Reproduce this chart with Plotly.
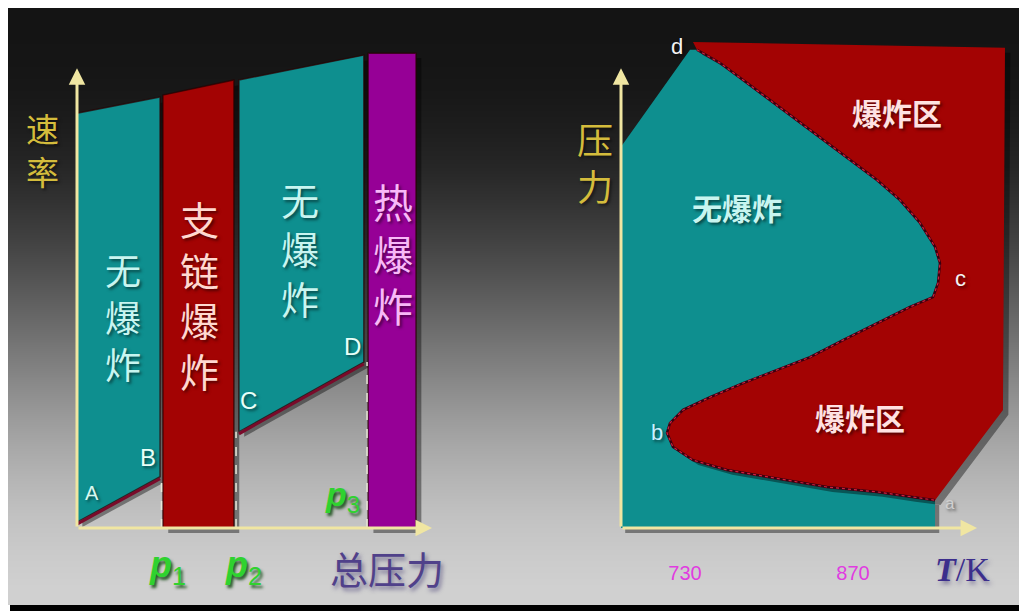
import plotly.graph_objects as go

# ---- left diagram: reaction rate vs total pressure ----
p_marks = [2.38, 4.48, 8.17]          # p1, p2, p3
slow1_x = [0.0, 2.34]
slow1_top = [8.50, 8.83]
slow1_bottom = [0.12, 1.05]
chain_x = [2.42, 4.42]
chain_top = [8.87, 9.18]
slow2_x = [4.56, 8.08]
slow2_top = [9.18, 9.69]
slow2_bottom = [1.97, 3.40]
thermal_x = [8.20, 9.55]
thermal_top = [9.73, 9.73]
dash_tops = [1.05, 1.97, 3.40]        # where the dashed p-lines meet the curves

# ---- right diagram: pressure vs T/K (explosion limits) ----
third_T = [740.0, 759.2, 778.4, 800.9, 823.4, 845.0, 867.5, 890.0, 909.2, 925.9, 938.4, 942.5, 940.9, 936.7]
third_P = [9.80, 9.53, 9.18, 8.77, 8.36, 7.95, 7.54, 7.13, 6.72, 6.25, 5.76, 5.43, 5.02, 4.73]
second_T = [917.5, 890.0, 861.7, 834.2, 806.7, 778.4, 750.9, 728.4, 717.5, 715.0]
second_P = [4.53, 4.20, 3.85, 3.50, 3.24, 2.97, 2.68, 2.42, 2.15, 1.95]
first_T = [720.0, 736.7, 765.0, 806.7, 848.4, 890.0, 917.5, 938.4]
first_P = [1.66, 1.39, 1.19, 1.02, 0.84, 0.74, 0.64, 0.57]
safe_corner_T = [676.7, 676.7, 734.2]
safe_corner_P = [0.0, 7.81, 9.80]
boom_corner_T = [736.7, 996.7, 995.0]
boom_corner_P = [9.96, 9.84, 2.42]
temp_ticks = [730, 870]

# background grey levels from top to bottom
bg_levels = [20, 21, 24, 30, 38, 50, 64, 80, 98, 116, 134, 152, 168, 182, 194, 202, 208]

TEAL = "#0e8f8f"
RED = "#a30303"
PURPLE = "#960096"
AXIS = "#f0e6a2"
CJK = "Noto Sans CJK SC"
LAT = "Liberation Sans"

W, H = 1019, 611
fig = go.Figure()

# background gradient on a full-page hidden axis
fig.add_trace(go.Heatmap(z=[[v, v] for v in bg_levels[::-1]], x=[0, 1],
                         y=list(range(len(bg_levels))), zsmooth="best",
                         colorscale=[[0, "black"], [1, "white"]], zmin=0, zmax=255,
                         showscale=False, hoverinfo="skip", xaxis="x", yaxis="y"))
fig.add_shape(type="rect", xref="paper", yref="paper", x0=10 / W, x1=1, y0=0, y1=6 / H,
              fillcolor="black", line_width=0)


def poly(xs, ys, color, xa="x2", ya="y2", edge="rgba(40,0,0,0.7)", shadow=(0.15, -0.1)):
    dx, dy = shadow
    fig.add_trace(go.Scatter(x=[v + dx for v in xs] + [xs[0] + dx], y=[v + dy for v in ys] + [ys[0] + dy],
                             mode="lines", fill="toself", fillcolor="rgba(0,0,0,0.4)",
                             line=dict(width=0), xaxis=xa, yaxis=ya, hoverinfo="skip", showlegend=False))
    fig.add_trace(go.Scatter(x=xs + [xs[0]], y=ys + [ys[0]], mode="lines", fill="toself",
                             fillcolor=color, line=dict(color=edge, width=1.5),
                             xaxis=xa, yaxis=ya, hoverinfo="skip", showlegend=False))


# left regions
poly([slow1_x[0], slow1_x[1], slow1_x[1], slow1_x[0]],
     [slow1_bottom[0], slow1_bottom[1], slow1_top[1], slow1_top[0]], TEAL)
poly([chain_x[0], chain_x[1], chain_x[1], chain_x[0]], [0, 0, chain_top[1], chain_top[0]], RED)
poly([slow2_x[0], slow2_x[1], slow2_x[1], slow2_x[0]],
     [slow2_bottom[0], slow2_bottom[1], slow2_top[1], slow2_top[0]], TEAL)
poly([thermal_x[0], thermal_x[1], thermal_x[1], thermal_x[0]], [0, 0, thermal_top[1], thermal_top[0]], PURPLE)

# maroon rims under the slow-reaction regions
for xs, ys in [(slow1_x, slow1_bottom), (slow2_x, slow2_bottom)]:
    fig.add_trace(go.Scatter(x=xs, y=[v - 0.04 for v in ys], mode="lines", xaxis="x2", yaxis="y2",
                             line=dict(color="#7a0a2a", width=3), hoverinfo="skip", showlegend=False))

# dashed p-lines
for px, top in zip(p_marks, dash_tops):
    fig.add_trace(go.Scatter(x=[px, px], y=[0, top], mode="lines", xaxis="x2", yaxis="y2",
                             line=dict(color="#e8e8d8", width=1.5, dash="dash"),
                             hoverinfo="skip", showlegend=False))

# right regions
boundary_T = third_T + second_T + first_T
boundary_P = third_P + second_P + first_P
poly(safe_corner_T + boundary_T + [first_T[-1]], safe_corner_P + boundary_P + [0],
     TEAL, "x3", "y3", edge="rgba(0,0,0,0)", shadow=(3.5, -0.1))
poly(boom_corner_T + boundary_T[::-1], boom_corner_P + boundary_P[::-1],
     RED, "x3", "y3", edge="rgba(0,0,0,0)", shadow=(4.5, -0.1))
fig.add_trace(go.Scatter(x=boundary_T, y=boundary_P, mode="lines", line=dict(color="#3a0010", width=2.5),
                         xaxis="x3", yaxis="y3", hoverinfo="skip", showlegend=False))
fig.add_trace(go.Scatter(x=boundary_T, y=boundary_P, mode="lines",
                         line=dict(color="#d02040", width=1.2, dash="dot"),
                         xaxis="x3", yaxis="y3", hoverinfo="skip", showlegend=False))

ann = []


def arrow(x, y, ax, ay, xr="x2", yr="y2"):
    ann.append(dict(x=x, y=y, ax=ax, ay=ay, xref=xr, yref=yr, axref=xr, ayref=yr, text="",
                    showarrow=True, arrowhead=2, arrowsize=1.1, arrowwidth=3, arrowcolor=AXIS))


arrow(0, 9.42, 0, 0)
arrow(10, 0, 0, 0)
arrow(676.7, 9.42, 676.7, 0, "x3", "y3")
arrow(973.4, 0, 676.7, 0, "x3", "y3")


def label(x, y, text, size, color, xr="x2", yr="y2", family=CJK, shadow="2px 2px 3px rgba(0,0,0,0.5)"):
    ann.append(dict(x=x, y=y, xref=xr, yref=yr, text=text, showarrow=False,
                    font=dict(family=family, size=size, color=color, shadow=shadow),
                    xanchor="center", yanchor="middle"))


# left labels
label(-0.96, 7.75, "速<br>率", 33, "#d4bc3c")
label(1.30, 4.35, "无<br>爆<br>炸", 36, "#c8f5f0")
label(3.46, 4.80, "支<br>链<br>爆<br>炸", 39, "#ffd8d0")
label(6.28, 5.73, "无<br>爆<br>炸", 38, "#c8f5f0")
label(8.90, 5.63, "热<br>爆<br>炸", 40, "#f8b8f8")
label(0.42, 0.72, "A", 20, "#d8f8f0", family=LAT)
label(2.00, 1.45, "B", 24, "#e8fff8", family=LAT)
label(4.82, 2.62, "C", 24, "#e8fff8", family=LAT)
label(7.77, 3.71, "D", 24, "#e8fff8", family=LAT)
green_shadow = "2px 3px 3px rgba(0,60,0,0.8)"
label(2.54, -0.80, "<b><i>p</i></b><sub>1</sub>", 36, "#2fd22f", family=LAT, shadow=green_shadow)
label(4.68, -0.80, "<b><i>p</i></b><sub>2</sub>", 36, "#2fd22f", family=LAT, shadow=green_shadow)
label(7.49, 0.64, "<b><i>p</i></b><sub>3</sub>", 34, "#2fd22f", family=LAT, shadow=green_shadow)
label(8.73, -0.80, "总压力", 38, "#50418a", shadow="2px 3px 4px rgba(60,50,110,0.6)")

# right labels
label(655.0, 7.52, "压<br>力", 36, "#d4bc3c", "x3", "y3")
label(773.4, 6.58, "<b>无爆炸</b>", 30, "#c8f5f0", "x3", "y3")
label(906.7, 8.52, "<b>爆炸区</b>", 30, "#ffe2e2", "x3", "y3")
label(875.9, 2.27, "<b>爆炸区</b>", 30, "#ffe2e2", "x3", "y3")
label(723.4, 9.86, "d", 22, "#f4f4f4", "x3", "y3", family=LAT)
label(959.2, 5.12, "c", 22, "#f4f4f4", "x3", "y3", family=LAT)
label(706.7, 1.95, "b", 22, "#c8f0ff", "x3", "y3", family=LAT)
label(950.9, 0.51, "a", 17, "#d0d0d0", "x3", "y3", family=LAT)
label(960.9, -0.86, "<b><i>T</i></b>/K", 34, "#3c2e8c", "x3", "y3", family="Liberation Serif",
      shadow="2px 3px 4px rgba(60,50,110,0.5)")

# pixel layout: x-axis line at 528 px, 48.8 px per pressure unit
ydom = [(H - 604) / H, (H - 20) / H]
yrng = [(528 - 604) / 48.8, (528 - 20) / 48.8]
hidden = dict(visible=False, showgrid=False, zeroline=False)
fig.update_layout(
    width=W, height=H, margin=dict(l=0, r=0, t=0, b=0),
    paper_bgcolor="white", plot_bgcolor="rgba(0,0,0,0)", showlegend=False,
    xaxis=dict(domain=[8 / W, 1], range=[0, 1], **hidden),
    yaxis=dict(domain=[6 / H, 1 - 8 / H], range=[-0.5, len(bg_levels) - 0.5], **hidden),
    xaxis2=dict(domain=[10 / W, 470 / W], range=[(10 - 77) / 35.5, (470 - 77) / 35.5], anchor="y2", **hidden),
    yaxis2=dict(domain=ydom, range=yrng, anchor="x2", **hidden),
    xaxis3=dict(domain=[560 / W, 1015 / W], range=[676.7 + (560 - 621) / 1.2, 676.7 + (1015 - 621) / 1.2],
                anchor="free", position=(H - 528) / H,
                showgrid=False, zeroline=False, showline=False, ticks="",
                tickvals=temp_ticks, ticktext=[str(t) for t in temp_ticks],
                tickfont=dict(family=LAT, size=20, color="#e03ce0"),
                ticklabelstandoff=31),
    yaxis3=dict(domain=ydom, range=yrng, anchor="x3", **hidden),
    annotations=ann,
)

fig.write_html("out.html", config={"displayModeBar": False},
               post_script="document.body.style.margin='0';document.body.style.overflow='hidden';")
